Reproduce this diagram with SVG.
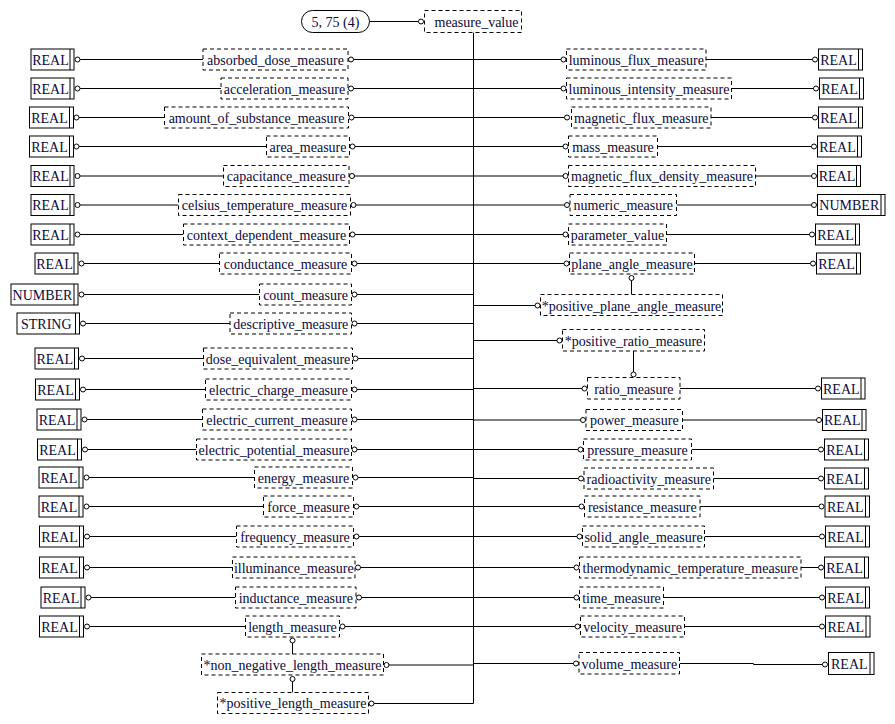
<svg xmlns="http://www.w3.org/2000/svg" width="895" height="724" viewBox="0 0 895 724">
<style>
  text { font-family: "Liberation Serif", "Times New Roman", serif; font-size: 14px; fill: #0a0a3c; text-anchor: middle; }
  .n { fill: #fff; stroke: #000; stroke-width: 1; stroke-dasharray: 4 3; }
  .t { fill: #fff; stroke: #000; stroke-width: 1; }
  .t2 { stroke: #000; stroke-width: 1; }
  .cap { fill: #fff; stroke: #000; stroke-width: 1; }
  #wires line, #wires polyline { stroke: #000; stroke-width: 1; fill: none; }
  #wires circle { fill: #fff; stroke: #000; stroke-width: 1; }
</style>
<rect width="895" height="724" fill="#fff"/>

<!-- connectors -->
<g id="wires">
  <!-- schema reference and trunk -->
  <line x1="369.5" y1="21.5" x2="418.5" y2="21.5"/><circle cx="421" cy="21.5" r="2.5"/>
  <line x1="473.5" y1="32.5" x2="473.5" y2="703.5"/>

  <!-- left column: type -> node, node -> trunk -->
  <line x1="80" y1="59.5" x2="203" y2="59.5"/><circle cx="77.5" cy="59.5" r="2.5"/><circle cx="351" cy="59.5" r="2.5"/><line x1="353.5" y1="59.5" x2="473.5" y2="59.5"/>
  <line x1="80" y1="88.5" x2="221" y2="88.5"/><circle cx="77.5" cy="88.5" r="2.5"/><circle cx="351" cy="88.5" r="2.5"/><line x1="353.5" y1="88.5" x2="473.5" y2="88.5"/>
  <line x1="79" y1="117.5" x2="164.5" y2="117.5"/><circle cx="76.5" cy="117.5" r="2.5"/><circle cx="351.5" cy="117.5" r="2.5"/><line x1="354" y1="117.5" x2="473.5" y2="117.5"/>
  <line x1="79" y1="146.5" x2="266.5" y2="146.5"/><circle cx="76.5" cy="146.5" r="2.5"/><circle cx="352.5" cy="146.5" r="2.5"/><line x1="355" y1="146.5" x2="473.5" y2="146.5"/>
  <line x1="80" y1="176" x2="223.5" y2="176"/><circle cx="77.5" cy="176" r="2.5"/><circle cx="352" cy="176" r="2.5"/><line x1="354.5" y1="176" x2="473.5" y2="176"/>
  <line x1="80" y1="205" x2="178.5" y2="205"/><circle cx="77.5" cy="205" r="2.5"/><circle cx="353.5" cy="205" r="2.5"/><line x1="356" y1="205" x2="473.5" y2="205"/>
  <line x1="80" y1="234.5" x2="183.5" y2="234.5"/><circle cx="77.5" cy="234.5" r="2.5"/><circle cx="352.5" cy="234.5" r="2.5"/><line x1="355" y1="234.5" x2="473.5" y2="234.5"/>
  <line x1="84" y1="263.5" x2="219.5" y2="263.5"/><circle cx="81.5" cy="263.5" r="2.5"/><circle cx="354.5" cy="263.5" r="2.5"/><line x1="357" y1="263.5" x2="473.5" y2="263.5"/>
  <line x1="84" y1="294.5" x2="259.5" y2="294.5"/><circle cx="81.5" cy="294.5" r="2.5"/><circle cx="354.5" cy="294.5" r="2.5"/><line x1="357" y1="294.5" x2="473.5" y2="294.5"/>
  <line x1="85.5" y1="323.5" x2="230" y2="323.5"/><circle cx="83" cy="323.5" r="2.5"/><circle cx="354.5" cy="323.5" r="2.5"/><line x1="357" y1="323.5" x2="473.5" y2="323.5"/>
  <line x1="84.5" y1="358.5" x2="203.5" y2="358.5"/><circle cx="82" cy="358.5" r="2.5"/><circle cx="355.5" cy="358.5" r="2.5"/><line x1="358" y1="358.5" x2="473.5" y2="358.5"/>
  <line x1="85.5" y1="389.5" x2="205.5" y2="389.5"/><circle cx="83" cy="389.5" r="2.5"/><circle cx="354.5" cy="389.5" r="2.5"/><line x1="357" y1="389.5" x2="473.5" y2="389.5"/>
  <line x1="87" y1="419.5" x2="202.5" y2="419.5"/><circle cx="84.5" cy="419.5" r="2.5"/><circle cx="354.5" cy="419.5" r="2.5"/><line x1="357" y1="419.5" x2="473.5" y2="419.5"/>
  <line x1="87.5" y1="449.5" x2="196.5" y2="449.5"/><circle cx="85" cy="449.5" r="2.5"/><circle cx="354.5" cy="449.5" r="2.5"/><line x1="357" y1="449.5" x2="473.5" y2="449.5"/>
  <line x1="89" y1="477.5" x2="254.5" y2="477.5"/><circle cx="86.5" cy="477.5" r="2.5"/><circle cx="355.5" cy="477.5" r="2.5"/><line x1="358" y1="477.5" x2="473.5" y2="477.5"/>
  <line x1="89" y1="506.5" x2="263.5" y2="506.5"/><circle cx="86.5" cy="506.5" r="2.5"/><circle cx="356.5" cy="506.5" r="2.5"/><line x1="359" y1="506.5" x2="473.5" y2="506.5"/>
  <line x1="89.5" y1="536.5" x2="236.5" y2="536.5"/><circle cx="87" cy="536.5" r="2.5"/><circle cx="356.5" cy="536.5" r="2.5"/><line x1="359" y1="536.5" x2="473.5" y2="536.5"/>
  <line x1="89.5" y1="567.5" x2="232.5" y2="567.5"/><circle cx="87" cy="567.5" r="2.5"/><circle cx="358" cy="567.5" r="2.5"/><line x1="360.5" y1="567.5" x2="473.5" y2="567.5"/>
  <line x1="91" y1="597.5" x2="235.5" y2="597.5"/><circle cx="88.5" cy="597.5" r="2.5"/><circle cx="359" cy="597.5" r="2.5"/><line x1="361.5" y1="597.5" x2="473.5" y2="597.5"/>
  <line x1="89.5" y1="626.5" x2="245.5" y2="626.5"/><circle cx="87" cy="626.5" r="2.5"/><circle cx="342.5" cy="626.5" r="2.5"/><line x1="345" y1="626.5" x2="473.5" y2="626.5"/>
  <circle cx="386.5" cy="665" r="2.5"/><line x1="389" y1="665" x2="473.5" y2="665"/>
  <circle cx="371.5" cy="703.5" r="2.5"/><line x1="374" y1="703.5" x2="473.5" y2="703.5"/>

  <!-- left subtype chain -->
  <circle cx="292.5" cy="640.5" r="2.5"/><line x1="292.5" y1="643" x2="292.5" y2="654"/>
  <circle cx="292.5" cy="679" r="2.5"/><line x1="292.5" y1="681.5" x2="292.5" y2="692.5"/>

  <!-- right column: trunk -> node, node -> type -->
  <line x1="473.5" y1="59.5" x2="561" y2="59.5"/><circle cx="563.5" cy="59.5" r="2.5"/><line x1="706" y1="59.5" x2="812.5" y2="59.5"/><circle cx="815" cy="59.5" r="2.5"/>
  <line x1="473.5" y1="88.5" x2="561" y2="88.5"/><circle cx="563.5" cy="88.5" r="2.5"/><line x1="731.5" y1="88.5" x2="813.5" y2="88.5"/><circle cx="816" cy="88.5" r="2.5"/>
  <line x1="473.5" y1="117.5" x2="564.5" y2="117.5"/><circle cx="567" cy="117.5" r="2.5"/><line x1="711" y1="117.5" x2="812.5" y2="117.5"/><circle cx="815" cy="117.5" r="2.5"/>
  <line x1="473.5" y1="146.5" x2="563" y2="146.5"/><circle cx="565.5" cy="146.5" r="2.5"/><line x1="657.5" y1="146.5" x2="811.5" y2="146.5"/><circle cx="814" cy="146.5" r="2.5"/>
  <line x1="473.5" y1="176" x2="563" y2="176"/><circle cx="565.5" cy="176" r="2.5"/><line x1="755.5" y1="176" x2="811.5" y2="176"/><circle cx="814" cy="176" r="2.5"/>
  <line x1="473.5" y1="205" x2="564.5" y2="205"/><circle cx="567" cy="205" r="2.5"/><line x1="676.5" y1="205" x2="811.5" y2="205"/><circle cx="814" cy="205" r="2.5"/>
  <line x1="473.5" y1="234.5" x2="563" y2="234.5"/><circle cx="565.5" cy="234.5" r="2.5"/><line x1="666.5" y1="234.5" x2="809.5" y2="234.5"/><circle cx="812" cy="234.5" r="2.5"/>
  <line x1="473.5" y1="263.5" x2="564" y2="263.5"/><circle cx="566.5" cy="263.5" r="2.5"/><line x1="694.5" y1="263.5" x2="810.5" y2="263.5"/><circle cx="813" cy="263.5" r="2.5"/>
  <line x1="473.5" y1="305.5" x2="535" y2="305.5"/><circle cx="537.5" cy="305.5" r="2.5"/>
  <line x1="473.5" y1="340.5" x2="557" y2="340.5"/><circle cx="559.5" cy="340.5" r="2.5"/>
  <line x1="473.5" y1="388.5" x2="582" y2="388.5"/><circle cx="584.5" cy="388.5" r="2.5"/><line x1="680" y1="388.5" x2="815.5" y2="388.5"/><circle cx="818" cy="388.5" r="2.5"/>
  <line x1="473.5" y1="420" x2="580.5" y2="420"/><circle cx="583" cy="420" r="2.5"/><line x1="682.5" y1="420" x2="816.5" y2="420"/><circle cx="819" cy="420" r="2.5"/>
  <line x1="473.5" y1="449.5" x2="578" y2="449.5"/><circle cx="580.5" cy="449.5" r="2.5"/><line x1="691.5" y1="449.5" x2="818.5" y2="449.5"/><circle cx="821" cy="449.5" r="2.5"/>
  <line x1="473.5" y1="478.5" x2="578.5" y2="478.5"/><circle cx="581" cy="478.5" r="2.5"/><line x1="713.5" y1="478.5" x2="818.5" y2="478.5"/><circle cx="821" cy="478.5" r="2.5"/>
  <line x1="473.5" y1="506.5" x2="579" y2="506.5"/><circle cx="581.5" cy="506.5" r="2.5"/><line x1="700" y1="506.5" x2="819" y2="506.5"/><circle cx="821.5" cy="506.5" r="2.5"/>
  <line x1="473.5" y1="536.5" x2="577" y2="536.5"/><circle cx="579.5" cy="536.5" r="2.5"/><line x1="704.5" y1="536.5" x2="819.5" y2="536.5"/><circle cx="822" cy="536.5" r="2.5"/>
  <line x1="473.5" y1="567.5" x2="574" y2="567.5"/><circle cx="576.5" cy="567.5" r="2.5"/><line x1="801" y1="567.5" x2="818.5" y2="567.5"/><circle cx="821" cy="567.5" r="2.5"/>
  <line x1="473.5" y1="597.5" x2="574" y2="597.5"/><circle cx="576.5" cy="597.5" r="2.5"/><line x1="663.5" y1="597.5" x2="819.5" y2="597.5"/><circle cx="822" cy="597.5" r="2.5"/>
  <line x1="473.5" y1="626.5" x2="575" y2="626.5"/><circle cx="577.5" cy="626.5" r="2.5"/><line x1="684.5" y1="626.5" x2="819.5" y2="626.5"/><circle cx="822" cy="626.5" r="2.5"/>
  <line x1="473.5" y1="663.5" x2="573.5" y2="663.5"/><circle cx="576" cy="663.5" r="2.5"/><polyline points="679.5,663.5 753.5,663.5 753.5,664.5 822.5,664.5"/><circle cx="825" cy="664.5" r="2.5"/>

  <!-- right subtype links -->
  <circle cx="631.5" cy="278" r="2.5"/><line x1="631.5" y1="280.5" x2="631.5" y2="294.5"/>
  <line x1="633.5" y1="351" x2="633.5" y2="372"/><circle cx="633.5" cy="374.5" r="2.5"/>
</g>

<!-- schema reference -->
<g id="ref_5_75"><rect class="cap" x="301.5" y="10.5" width="68" height="22" rx="11"/><text x="335.5" y="26.5">5, 75 (4)</text></g>
<g id="measure_value"><rect class="n" x="424.5" y="10.5" width="97" height="22"/><text x="476.5" y="26.5">measure_value</text></g>

<!-- left column nodes -->
<g id="absorbed_dose_measure"><rect class="n" x="203" y="49" width="145" height="21"/><text x="275.5" y="64.5">absorbed_dose_measure</text></g>
<g id="acceleration_measure"><rect class="n" x="221" y="78" width="127" height="21"/><text x="284.5" y="93.5">acceleration_measure</text></g>
<g id="amount_of_substance_measure"><rect class="n" x="164.5" y="107" width="184" height="21"/><text x="256.5" y="122.5">amount_of_substance_measure</text></g>
<g id="area_measure"><rect class="n" x="266.5" y="136" width="83" height="21"/><text x="308" y="151.5">area_measure</text></g>
<g id="capacitance_measure"><rect class="n" x="223.5" y="165.5" width="125.5" height="21"/><text x="286.3" y="181">capacitance_measure</text></g>
<g id="celsius_temperature_measure"><rect class="n" x="178.5" y="194.5" width="172" height="21"/><text x="264.5" y="210">celsius_temperature_measure</text></g>
<g id="context_dependent_measure"><rect class="n" x="183.5" y="224" width="166" height="21"/><text x="266.5" y="239.5">context_dependent_measure</text></g>
<g id="conductance_measure"><rect class="n" x="219.5" y="253" width="132" height="21"/><text x="285.5" y="268.5">conductance_measure</text></g>
<g id="count_measure"><rect class="n" x="259.5" y="284" width="92" height="21"/><text x="305.5" y="299.5">count_measure</text></g>
<g id="descriptive_measure"><rect class="n" x="230" y="313" width="121.5" height="21"/><text x="290.8" y="328.5">descriptive_measure</text></g>
<g id="dose_equivalent_measure"><rect class="n" x="203.5" y="348" width="149" height="21"/><text x="278" y="363.5">dose_equivalent_measure</text></g>
<g id="electric_charge_measure"><rect class="n" x="205.5" y="379" width="146" height="21"/><text x="278.5" y="394.5">electric_charge_measure</text></g>
<g id="electric_current_measure"><rect class="n" x="202.5" y="409" width="149" height="21"/><text x="277" y="424.5">electric_current_measure</text></g>
<g id="electric_potential_measure"><rect class="n" x="196.5" y="439" width="155" height="21"/><text x="274" y="454.5">electric_potential_measure</text></g>
<g id="energy_measure"><rect class="n" x="254.5" y="467" width="98" height="21"/><text x="303.5" y="482.5">energy_measure</text></g>
<g id="force_measure"><rect class="n" x="263.5" y="496" width="90" height="21"/><text x="308.5" y="511.5">force_measure</text></g>
<g id="frequency_measure"><rect class="n" x="236.5" y="526" width="117" height="21"/><text x="295" y="541.5">frequency_measure</text></g>
<g id="illuminance_measure"><rect class="n" x="232.5" y="557" width="122.5" height="21"/><text x="293.8" y="572.5">illuminance_measure</text></g>
<g id="inductance_measure"><rect class="n" x="235.5" y="587" width="120.5" height="21"/><text x="295.8" y="602.5">inductance_measure</text></g>
<g id="length_measure"><rect class="n" x="245.5" y="616" width="94" height="21"/><text x="292.5" y="631.5">length_measure</text></g>
<g id="non_negative_length_measure"><rect class="n" x="201.5" y="654" width="182" height="21"/><text x="292.5" y="669.5">*non_negative_length_measure</text></g>
<g id="positive_length_measure"><rect class="n" x="217.5" y="692.5" width="151" height="21"/><text x="293" y="708">*positive_length_measure</text></g>

<!-- left column base types -->
<g id="left_types">
  <g id="t_l01"><rect class="t" x="31" y="49" width="43" height="21"/><line class="t2" x1="70" y1="49" x2="70" y2="70"/><text x="50.5" y="64.5">REAL</text></g>
  <g id="t_l02"><rect class="t" x="31" y="78" width="43" height="21"/><line class="t2" x1="70" y1="78" x2="70" y2="99"/><text x="50.5" y="93.5">REAL</text></g>
  <g id="t_l03"><rect class="t" x="29.5" y="107" width="44" height="21"/><line class="t2" x1="69.5" y1="107" x2="69.5" y2="128"/><text x="49.5" y="122.5">REAL</text></g>
  <g id="t_l04"><rect class="t" x="29.5" y="136" width="44" height="21"/><line class="t2" x1="69.5" y1="136" x2="69.5" y2="157"/><text x="49.5" y="151.5">REAL</text></g>
  <g id="t_l05"><rect class="t" x="31" y="165.5" width="43" height="21"/><line class="t2" x1="70" y1="165.5" x2="70" y2="186.5"/><text x="50.5" y="181">REAL</text></g>
  <g id="t_l06"><rect class="t" x="31" y="194.5" width="43" height="21"/><line class="t2" x1="70" y1="194.5" x2="70" y2="215.5"/><text x="50.5" y="210">REAL</text></g>
  <g id="t_l07"><rect class="t" x="31" y="224" width="43" height="21"/><line class="t2" x1="70" y1="224" x2="70" y2="245"/><text x="50.5" y="239.5">REAL</text></g>
  <g id="t_l08"><rect class="t" x="35" y="253" width="43" height="21"/><line class="t2" x1="74" y1="253" x2="74" y2="274"/><text x="54.5" y="268.5">REAL</text></g>
  <g id="t_l09"><rect class="t" x="11" y="284" width="67" height="21"/><line class="t2" x1="74" y1="284" x2="74" y2="305"/><text x="42.5" y="299.5">NUMBER</text></g>
  <g id="t_l10"><rect class="t" x="17" y="313" width="62.5" height="21"/><line class="t2" x1="75.5" y1="313" x2="75.5" y2="334"/><text x="46.3" y="328.5">STRING</text></g>
  <g id="t_l11"><rect class="t" x="35" y="348" width="43.5" height="21"/><line class="t2" x1="74.5" y1="348" x2="74.5" y2="369"/><text x="54.8" y="363.5">REAL</text></g>
  <g id="t_l12"><rect class="t" x="35.5" y="379" width="44" height="21"/><line class="t2" x1="75.5" y1="379" x2="75.5" y2="400"/><text x="55.5" y="394.5">REAL</text></g>
  <g id="t_l13"><rect class="t" x="37" y="409" width="44" height="21"/><line class="t2" x1="77" y1="409" x2="77" y2="430"/><text x="57" y="424.5">REAL</text></g>
  <g id="t_l14"><rect class="t" x="37.5" y="439" width="44" height="21"/><line class="t2" x1="77.5" y1="439" x2="77.5" y2="460"/><text x="57.5" y="454.5">REAL</text></g>
  <g id="t_l15"><rect class="t" x="39" y="467" width="44" height="21"/><line class="t2" x1="79" y1="467" x2="79" y2="488"/><text x="59" y="482.5">REAL</text></g>
  <g id="t_l16"><rect class="t" x="39" y="496" width="44" height="21"/><line class="t2" x1="79" y1="496" x2="79" y2="517"/><text x="59" y="511.5">REAL</text></g>
  <g id="t_l17"><rect class="t" x="39.5" y="526" width="44" height="21"/><line class="t2" x1="79.5" y1="526" x2="79.5" y2="547"/><text x="59.5" y="541.5">REAL</text></g>
  <g id="t_l18"><rect class="t" x="39.5" y="557" width="44" height="21"/><line class="t2" x1="79.5" y1="557" x2="79.5" y2="578"/><text x="59.5" y="572.5">REAL</text></g>
  <g id="t_l19"><rect class="t" x="41" y="587" width="44" height="21"/><line class="t2" x1="81" y1="587" x2="81" y2="608"/><text x="61" y="602.5">REAL</text></g>
  <g id="t_l20"><rect class="t" x="39.5" y="616" width="44" height="21"/><line class="t2" x1="79.5" y1="616" x2="79.5" y2="637"/><text x="59.5" y="631.5">REAL</text></g>
</g>

<!-- right column nodes -->
<g id="luminous_flux_measure"><rect class="n" x="566.5" y="49" width="139.5" height="21"/><text x="636.3" y="64.5">luminous_flux_measure</text></g>
<g id="luminous_intensity_measure"><rect class="n" x="566.5" y="78" width="165" height="21"/><text x="649" y="93.5">luminous_intensity_measure</text></g>
<g id="magnetic_flux_measure"><rect class="n" x="571.5" y="107" width="139.5" height="21"/><text x="641.3" y="122.5">magnetic_flux_measure</text></g>
<g id="mass_measure"><rect class="n" x="568.5" y="136" width="89" height="21"/><text x="613" y="151.5">mass_measure</text></g>
<g id="magnetic_flux_density_measure"><rect class="n" x="568.5" y="165.5" width="187" height="21"/><text x="662" y="181">magnetic_flux_density_measure</text></g>
<g id="numeric_measure"><rect class="n" x="570" y="194.5" width="106.5" height="21"/><text x="623.3" y="210">numeric_measure</text></g>
<g id="parameter_value"><rect class="n" x="568.5" y="224" width="98" height="21"/><text x="617.5" y="239.5">parameter_value</text></g>
<g id="plane_angle_measure"><rect class="n" x="569.5" y="253" width="125" height="21"/><text x="632" y="268.5">plane_angle_measure</text></g>
<g id="positive_plane_angle_measure"><rect class="n" x="540.5" y="294.5" width="182" height="21"/><text x="631.5" y="310.5">*positive_plane_angle_measure</text></g>
<g id="positive_ratio_measure"><rect class="n" x="562.5" y="329.5" width="142" height="21.5"/><text x="633.5" y="345.5">*positive_ratio_measure</text></g>
<g id="ratio_measure"><rect class="n" x="587.5" y="377.5" width="92.5" height="21.5"/><text x="633.8" y="393.5">ratio_measure</text></g>
<g id="power_measure"><rect class="n" x="586" y="409.5" width="96.5" height="21"/><text x="634.3" y="425">power_measure</text></g>
<g id="pressure_measure"><rect class="n" x="583.5" y="439" width="108" height="21"/><text x="637.5" y="454.5">pressure_measure</text></g>
<g id="radioactivity_measure"><rect class="n" x="584" y="468" width="129.5" height="21"/><text x="648.8" y="483.5">radioactivity_measure</text></g>
<g id="resistance_measure"><rect class="n" x="584.5" y="496" width="115.5" height="21"/><text x="642.3" y="511.5">resistance_measure</text></g>
<g id="solid_angle_measure"><rect class="n" x="582.5" y="526" width="122" height="21"/><text x="643.5" y="541.5">solid_angle_measure</text></g>
<g id="thermodynamic_temperature_measure"><rect class="n" x="579.5" y="557" width="221.5" height="21"/><text x="690.3" y="572.5">thermodynamic_temperature_measure</text></g>
<g id="time_measure"><rect class="n" x="579.5" y="587" width="84" height="21"/><text x="621.5" y="602.5">time_measure</text></g>
<g id="velocity_measure"><rect class="n" x="580.5" y="616" width="104" height="21"/><text x="632.5" y="631.5">velocity_measure</text></g>
<g id="volume_measure"><rect class="n" x="579" y="652.5" width="100.5" height="21.5"/><text x="629.3" y="668.5">volume_measure</text></g>

<!-- right column base types -->
<g id="right_types">
  <g id="t_r01"><rect class="t" x="818.5" y="49" width="44" height="21"/><line class="t2" x1="858.5" y1="49" x2="858.5" y2="70"/><text x="838.5" y="64.5">REAL</text></g>
  <g id="t_r02"><rect class="t" x="819.5" y="78" width="44" height="21"/><line class="t2" x1="859.5" y1="78" x2="859.5" y2="99"/><text x="839.5" y="93.5">REAL</text></g>
  <g id="t_r03"><rect class="t" x="818.5" y="107" width="44" height="21"/><line class="t2" x1="858.5" y1="107" x2="858.5" y2="128"/><text x="838.5" y="122.5">REAL</text></g>
  <g id="t_r04"><rect class="t" x="817.5" y="136" width="44" height="21"/><line class="t2" x1="857.5" y1="136" x2="857.5" y2="157"/><text x="837.5" y="151.5">REAL</text></g>
  <g id="t_r05"><rect class="t" x="817.5" y="165.5" width="43" height="21"/><line class="t2" x1="856.5" y1="165.5" x2="856.5" y2="186.5"/><text x="837" y="181">REAL</text></g>
  <g id="t_r06"><rect class="t" x="817.5" y="194.5" width="67.5" height="21"/><line class="t2" x1="881" y1="194.5" x2="881" y2="215.5"/><text x="849.3" y="210">NUMBER</text></g>
  <g id="t_r07"><rect class="t" x="815.5" y="224" width="44" height="21"/><line class="t2" x1="855.5" y1="224" x2="855.5" y2="245"/><text x="835.5" y="239.5">REAL</text></g>
  <g id="t_r08"><rect class="t" x="816.5" y="253" width="44" height="21"/><line class="t2" x1="856.5" y1="253" x2="856.5" y2="274"/><text x="836.5" y="268.5">REAL</text></g>
  <g id="t_r11"><rect class="t" x="821.5" y="378" width="43.5" height="21"/><line class="t2" x1="861" y1="378" x2="861" y2="399"/><text x="841.3" y="393.5">REAL</text></g>
  <g id="t_r12"><rect class="t" x="822.5" y="409.5" width="43.5" height="21"/><line class="t2" x1="862" y1="409.5" x2="862" y2="430.5"/><text x="842.3" y="425">REAL</text></g>
  <g id="t_r13"><rect class="t" x="824.5" y="439" width="44" height="21"/><line class="t2" x1="864.5" y1="439" x2="864.5" y2="460"/><text x="844.5" y="454.5">REAL</text></g>
  <g id="t_r14"><rect class="t" x="824.5" y="468" width="44" height="21"/><line class="t2" x1="864.5" y1="468" x2="864.5" y2="489"/><text x="844.5" y="483.5">REAL</text></g>
  <g id="t_r15"><rect class="t" x="825" y="496" width="44.5" height="21"/><line class="t2" x1="865.5" y1="496" x2="865.5" y2="517"/><text x="845.3" y="511.5">REAL</text></g>
  <g id="t_r16"><rect class="t" x="825.5" y="526" width="44" height="21"/><line class="t2" x1="865.5" y1="526" x2="865.5" y2="547"/><text x="845.5" y="541.5">REAL</text></g>
  <g id="t_r17"><rect class="t" x="824.5" y="557" width="44" height="21"/><line class="t2" x1="864.5" y1="557" x2="864.5" y2="578"/><text x="844.5" y="572.5">REAL</text></g>
  <g id="t_r18"><rect class="t" x="825.5" y="587" width="44" height="21"/><line class="t2" x1="865.5" y1="587" x2="865.5" y2="608"/><text x="845.5" y="602.5">REAL</text></g>
  <g id="t_r19"><rect class="t" x="825.5" y="616" width="44.5" height="21"/><line class="t2" x1="866" y1="616" x2="866" y2="637"/><text x="845.8" y="631.5">REAL</text></g>
  <g id="t_r20"><rect class="t" x="828.5" y="652.5" width="45.5" height="22"/><line class="t2" x1="870" y1="652.5" x2="870" y2="674.5"/><text x="849.3" y="668.5">REAL</text></g>
</g>
</svg>
